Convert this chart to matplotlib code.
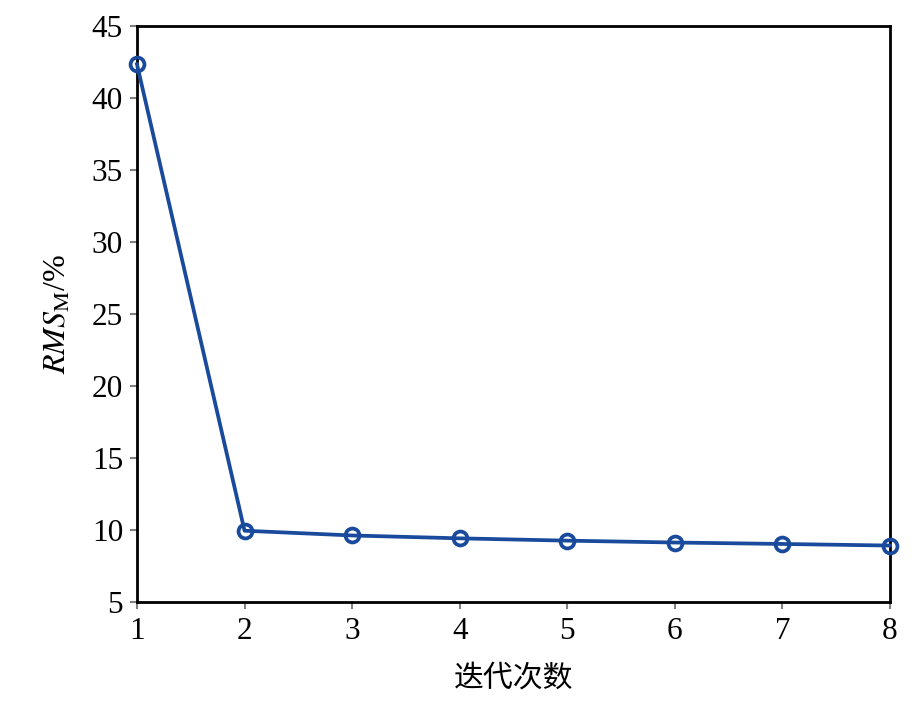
import matplotlib
matplotlib.use("Agg")
import matplotlib.pyplot as plt

iterations = [1, 2, 3, 4, 5, 6, 7, 8]
rms_values = [42.35, 9.95, 9.62, 9.42, 9.26, 9.13, 9.03, 8.92]
xticks = [1, 2, 3, 4, 5, 6, 7, 8]
yticks = [5, 10, 15, 20, 25, 30, 35, 40, 45]

plt.rcParams['font.family'] = ['Liberation Serif', 'Noto Sans CJK SC']
plt.rcParams['mathtext.fontset'] = 'stix'

fig = plt.figure(figsize=(9.21, 7.17), dpi=100)
ax = fig.add_axes([0.1487, 0.1604, 0.8177, 0.8033])

ax.plot(iterations, rms_values, color='#1a4a9c', linewidth=2.7,
        marker='o', markersize=10, markerfacecolor='none',
        markeredgewidth=2.7, markeredgecolor='#1a4a9c', clip_on=False, zorder=3)

ax.set_xlim(1, 8)
ax.set_ylim(5, 45)
ax.set_xticks(xticks)
ax.set_yticks(yticks)
ax.tick_params(axis='both', labelsize=22.5, direction='out', length=5,
               width=1.5, color='#808080')
ax.tick_params(axis='x', pad=6)
ax.tick_params(axis='y', pad=5)
for s in ax.spines.values():
    s.set_linewidth(2)

ax.set_xlabel('迭代次数', fontsize=21.5, family='Noto Sans CJK SC', labelpad=12)
ax.set_ylabel(r'$RMS_{\mathrm{M}}$/%', fontsize=23, labelpad=14)

fig.savefig('out.png', dpi=100)
